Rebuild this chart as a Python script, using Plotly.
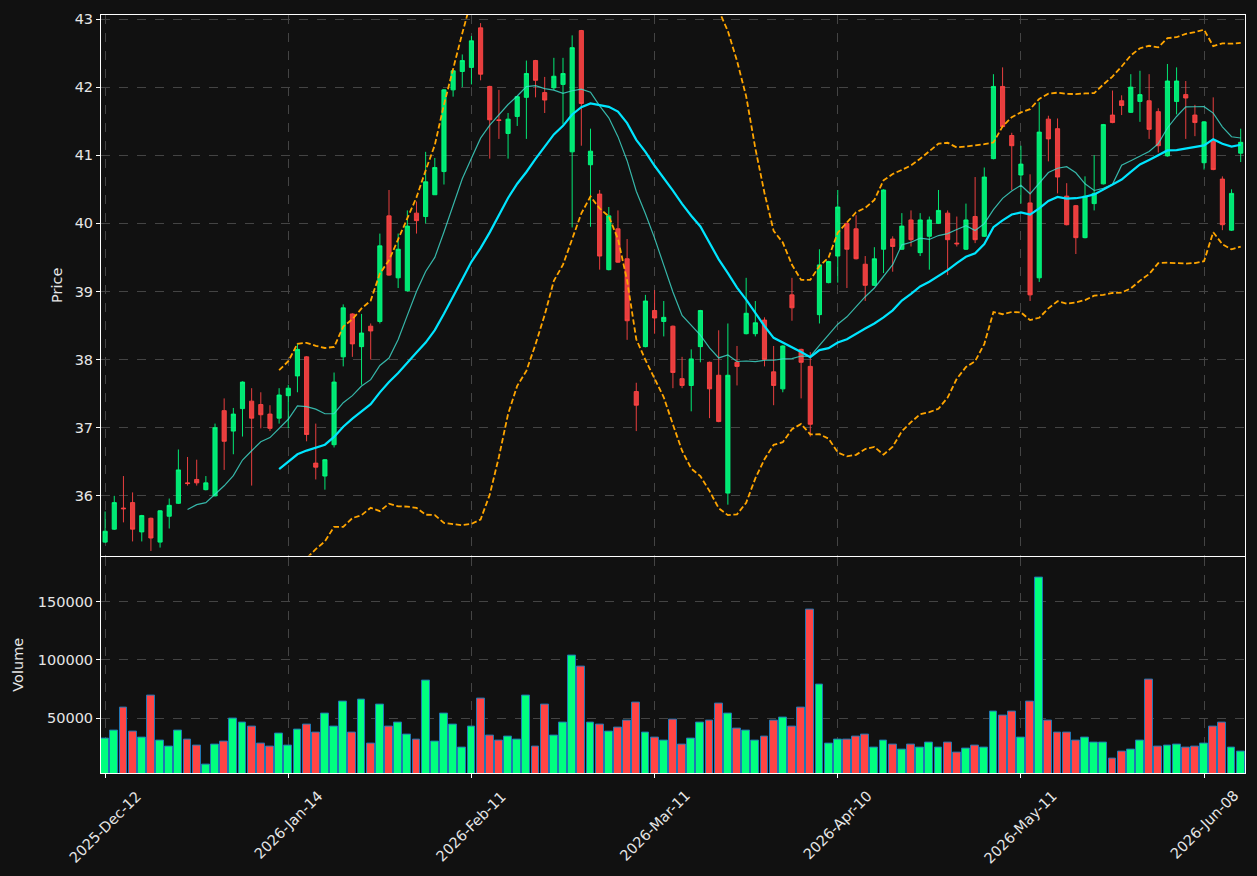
import pandas as pd
import plotly.graph_objects as go

# ---------------- data ----------------
opens = [35.32, 35.51, 35.82, 35.90, 35.47, 35.67, 35.32, 35.70, 35.89, 36.19,
         36.24, 36.09, 36.00, 37.25, 36.95, 37.28, 37.39, 37.34, 37.20, 37.14,
         37.47, 37.76, 38.04, 36.48, 36.29, 36.75, 38.04, 38.67, 38.19, 38.49,
         38.56, 40.11, 39.20, 39.01, 40.15, 40.10, 40.42, 40.76, 41.96, 42.23,
         42.29, 42.87, 42.01, 41.52, 41.32, 41.57, 41.85, 42.39, 41.92, 41.99,
         42.04, 41.05, 42.83, 40.86, 40.43, 39.32, 39.92, 39.48, 37.53, 38.19,
         38.72, 38.56, 38.49, 37.72, 37.62, 38.19, 37.96, 37.77, 36.04, 37.96,
         38.38, 38.38, 38.58, 37.82, 37.57, 38.95, 38.15, 37.90, 38.66, 39.13,
         39.52, 40.00, 39.92, 39.40, 39.09, 39.62, 39.77, 39.62, 40.05, 39.57,
         39.81, 40.00, 40.15, 39.71, 39.62, 40.10, 39.81, 40.95, 42.01, 41.29,
         40.71, 40.30, 39.20, 41.53, 41.39, 40.40, 40.26, 39.79, 40.29, 40.58,
         41.59, 41.80, 41.63, 41.79, 41.80, 41.64, 40.99, 41.79, 41.89, 41.59,
         40.89, 41.22, 40.65, 39.90, 41.03]
highs = [35.77, 36.00, 36.29, 36.05, 35.72, 35.68, 35.79, 35.96, 36.68, 36.57,
         36.53, 36.29, 37.06, 37.43, 37.29, 37.68, 37.58, 37.52, 37.33, 37.58,
         37.63, 38.23, 38.05, 37.06, 36.54, 37.81, 38.81, 38.68, 38.67, 38.53,
         39.85, 40.49, 39.85, 40.19, 40.32, 41.05, 40.96, 41.97, 42.25, 42.48,
         42.75, 42.94, 42.02, 41.96, 41.62, 41.87, 42.39, 42.40, 42.15, 42.43,
         42.43, 42.76, 42.84, 41.39, 40.49, 40.24, 40.19, 39.77, 37.66, 38.95,
         39.02, 38.86, 38.50, 38.04, 38.15, 38.73, 37.97, 38.43, 38.53, 38.20,
         39.20, 38.86, 38.62, 38.20, 38.21, 39.20, 38.16, 38.11, 39.62, 39.45,
         40.49, 40.01, 40.12, 39.52, 39.65, 40.50, 39.81, 40.15, 40.19, 40.15,
         40.10, 40.49, 40.19, 40.10, 40.29, 40.68, 40.82, 42.19, 42.29, 41.33,
         41.14, 40.72, 41.78, 41.58, 41.54, 40.59, 40.27, 40.69, 41.00, 41.46,
         41.95, 41.88, 42.19, 42.24, 42.19, 41.69, 42.34, 42.29, 42.09, 41.74,
         41.50, 41.85, 40.69, 40.50, 41.39]
lows = [35.31, 35.50, 35.61, 35.33, 35.33, 35.19, 35.24, 35.52, 35.88, 36.15,
        36.15, 36.08, 35.99, 36.38, 36.61, 36.87, 36.15, 36.99, 36.95, 37.06,
        36.99, 37.52, 36.80, 36.24, 36.09, 36.71, 37.90, 38.04, 37.63, 38.00,
        38.53, 39.23, 39.05, 39.00, 39.85, 40.00, 40.42, 40.57, 41.86, 42.00,
        42.04, 42.10, 40.95, 41.24, 40.95, 41.43, 41.24, 41.85, 41.62, 41.96,
        41.45, 39.94, 41.14, 39.95, 39.32, 39.31, 39.42, 38.29, 36.95, 38.18,
        38.38, 38.34, 37.58, 37.58, 37.24, 37.96, 37.14, 37.08, 35.87, 37.62,
        38.37, 38.34, 37.90, 37.33, 37.52, 38.57, 37.43, 36.87, 38.53, 39.12,
        39.13, 39.05, 39.47, 38.86, 39.08, 39.27, 39.29, 39.61, 39.66, 39.52,
        39.32, 39.99, 39.24, 39.66, 39.61, 39.71, 39.80, 40.94, 41.41, 40.49,
        40.29, 38.86, 39.14, 40.91, 40.44, 39.97, 39.55, 39.78, 40.19, 40.57,
        41.47, 41.59, 41.62, 41.49, 41.24, 41.04, 40.98, 41.60, 41.24, 41.28,
        40.79, 40.78, 39.90, 39.89, 40.90]
closes = [35.48, 35.90, 35.81, 35.51, 35.71, 35.38, 35.78, 35.86, 36.38, 36.18,
          36.19, 36.19, 37.00, 36.80, 37.20, 37.67, 37.14, 37.19, 36.99, 37.48,
          37.58, 38.15, 36.90, 36.42, 36.53, 37.67, 38.76, 38.23, 38.39, 38.42,
          39.67, 39.24, 39.62, 39.96, 40.04, 40.61, 40.82, 41.96, 42.24, 42.39,
          42.68, 42.19, 41.52, 41.51, 41.53, 41.86, 42.20, 42.10, 41.81, 42.16,
          42.20, 42.58, 41.76, 41.06, 39.52, 40.11, 39.43, 38.57, 37.33, 38.86,
          38.61, 38.62, 37.81, 37.62, 38.01, 38.72, 37.57, 37.09, 37.77, 37.90,
          38.68, 38.54, 38.00, 37.62, 38.20, 38.76, 37.96, 37.05, 39.39, 39.44,
          40.24, 39.62, 39.48, 39.09, 39.48, 40.49, 39.66, 39.96, 39.76, 40.05,
          40.05, 40.19, 39.76, 39.70, 40.05, 39.76, 40.68, 42.01, 41.42, 41.14,
          40.87, 38.95, 41.34, 41.24, 40.68, 39.98, 39.79, 40.40, 40.44, 41.45,
          41.48, 41.73, 42.00, 41.89, 41.38, 41.14, 42.09, 42.09, 41.84, 41.48,
          41.49, 40.79, 39.98, 40.44, 41.19]
volumes = [32200, 39000, 59300, 38100, 33100, 69500, 30500, 25400, 39000, 31400,
           26300, 10000, 27100, 29700, 50000, 45800, 42400, 28000, 25400, 36400,
           26300, 39800, 44900, 37300, 54200, 42400, 64400, 37300, 66100, 28000,
           61900, 42400, 46600, 35600, 31400, 82200, 29700, 54200, 44900, 24600,
           43200, 66900, 34700, 30500, 33900, 31400, 69500, 25400, 61900, 34700,
           45800, 103400, 94100, 46600, 44100, 38100, 41500, 48300, 63600, 37300,
           33100, 30500, 49200, 27100, 32200, 45800, 48300, 62700, 54200, 40700,
           39000, 30500, 33900, 48300, 50800, 42400, 59300, 143200, 78800, 28000,
           31400, 31400, 33900, 35600, 24600, 30500, 27100, 22900, 27100, 24600,
           28800, 24600, 28800, 20300, 23700, 26300, 24600, 55900, 52500, 55900,
           33100, 64400, 170300, 47500, 37300, 37300, 30500, 33100, 28800, 28800,
           15300, 21200, 22900, 30500, 83100, 25400, 26300, 27100, 24600, 25400,
           28000, 42400, 45800, 24600, 21200]
tick_labels = ["2025-Dec-12", "2026-Jan-14", "2026-Feb-11", "2026-Mar-11",
               "2026-Apr-10", "2026-May-11", "2026-Jun-08"]

# ---------------- derived indicators ----------------
idx = list(range(len(closes)))
cs = pd.Series(closes)
sma10 = cs.rolling(10).mean()
sma20 = cs.rolling(20).mean()
std20 = cs.rolling(20).std()
bb_up = sma20 + 2 * std20
bb_lo = sma20 - 2 * std20

UP = "#00ff7f"
DN = "#ff4444"
UP_C = "rgba(0,255,127,0.9)"
DN_C = "rgba(255,68,68,0.9)"
BG = "#111111"
TXT = "#e6e6e6"
GRID = "#444444"
FONT = "DejaVu Sans"

vol_colors = [UP if c >= o else DN for o, c in zip(opens, closes)]

fig = go.Figure()

fig.add_trace(go.Candlestick(
    x=idx, open=opens, high=highs, low=lows, close=closes,
    increasing=dict(line=dict(color=UP_C, width=1), fillcolor=UP_C),
    decreasing=dict(line=dict(color=DN_C, width=1), fillcolor=DN_C),
    whiskerwidth=0, showlegend=False, xaxis="x", yaxis="y"))

fig.add_trace(go.Scatter(x=idx, y=sma10, mode="lines",
                         line=dict(color="rgba(64,224,208,0.8)", width=1.2),
                         showlegend=False, xaxis="x", yaxis="y"))
fig.add_trace(go.Scatter(x=idx, y=sma20, mode="lines",
                         line=dict(color="#00e5ff", width=2.2),
                         showlegend=False, xaxis="x", yaxis="y"))
for band in (bb_up, bb_lo):
    fig.add_trace(go.Scatter(x=idx, y=band, mode="lines",
                             line=dict(color="#ffa500", width=1.8, dash="5.5px,2.6px"),
                             showlegend=False, xaxis="x", yaxis="y"))

fig.add_trace(go.Bar(x=idx, y=volumes, width=0.86,
                     marker=dict(color=vol_colors, line=dict(color="#1f77b4", width=1)),
                     showlegend=False, xaxis="x2", yaxis="y2"))

tickpos = list(range(0, len(closes), 20))

axis_common = dict(showline=True, mirror=True, linecolor="#ffffff", linewidth=1,
                   showgrid=True, gridcolor=GRID, griddash="dash", gridwidth=1,
                   zeroline=False, tickfont=dict(family=FONT, size=14.5, color=TXT))

# rotated date labels centred under their ticks (as in the original)
annotations = [dict(x=p, xref="x2", y=0, yref="paper", text=t, showarrow=False,
                    textangle=-45, xanchor="center", yanchor="top", yshift=-12,
                    font=dict(family=FONT, size=14.5, color=TXT))
               for p, t in zip(tickpos, tick_labels)]

fig.update_layout(
    width=1257, height=876,
    paper_bgcolor=BG, plot_bgcolor=BG,
    margin=dict(l=101, r=11, t=13, b=103),
    font=dict(family=FONT, color=TXT, size=14.5),
    bargap=0, boxgap=0.35,
    annotations=annotations,
    xaxis=dict(domain=[0, 1], anchor="y", range=[-0.45, 124.47],
               tickvals=tickpos, ticktext=[""] * len(tickpos), ticks="",
               rangeslider=dict(visible=False), **axis_common),
    yaxis=dict(domain=[0.2868, 1], anchor="x", range=[35.122, 43.059],
               tickvals=[36, 37, 38, 39, 40, 41, 42, 43], ticks="outside",
               ticklen=4, tickcolor="#ffffff",
               title=dict(text="Price", standoff=8,
                          font=dict(family=FONT, size=14.5, color=TXT)),
               **axis_common),
    xaxis2=dict(domain=[0, 1], anchor="y2", range=[-0.45, 124.47], matches="x",
                tickvals=tickpos, ticktext=[""] * len(tickpos),
                ticks="outside", ticklen=4, tickcolor="#ffffff",
                **axis_common),
    yaxis2=dict(domain=[0, 0.2855], anchor="x2", range=[3000, 188500],
                tickvals=[50000, 100000, 150000], tickformat="d",
                ticks="outside", ticklen=4, tickcolor="#ffffff",
                title=dict(text="Volume", standoff=10,
                           font=dict(family=FONT, size=14.5, color=TXT)),
                **axis_common),
)

fig.write_html("out.html")
